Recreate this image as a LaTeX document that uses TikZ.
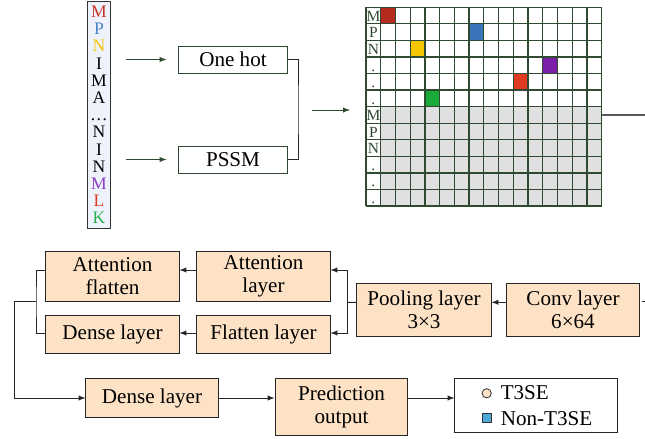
\documentclass[tikz,border=0pt]{standalone}
\usepackage{fontspec}
\setmainfont{Liberation Serif}
\usepackage{tikz}
\usetikzlibrary{shapes, arrows, arrows.meta, calc, fit, positioning}
\definecolor{gridgreen}{HTML}{2F4A30}
\definecolor{peach}{HTML}{FDE2C6}
\definecolor{seqbg}{HTML}{EEF2FB}
\definecolor{cellgrey}{HTML}{E0E0E0}
\definecolor{aared}{HTML}{C8352A}
\definecolor{aablue}{HTML}{4A80C4}
\definecolor{aayellow}{HTML}{F7C400}
\definecolor{aapurple}{HTML}{8A3FC4}
\definecolor{aaorange}{HTML}{E03A22}
\definecolor{aagreen}{HTML}{22B14C}
\definecolor{cellred}{HTML}{B52A1F}
\definecolor{cellblue}{HTML}{3A74B8}
\definecolor{cellpurple}{HTML}{7B1FA8}
\definecolor{cellgreen}{HTML}{1AAA3A}
\definecolor{markblue}{HTML}{4EA8D8}
\tikzstyle{layer} = [rectangle, draw=black!85, fill=peach, line width=0.7pt,
    align=center, inner sep=0pt, font=\fontsize{15}{16.5}\selectfont]
\tikzstyle{feature} = [rectangle, draw=gridgreen, fill=white, line width=0.7pt,
    minimum width=2.7cm, minimum height=0.675cm, font=\fontsize{15}{17}\selectfont]
\tikzstyle{letter} = [anchor=base, inner sep=0pt, font=\fontsize{11}{12}\selectfont]
\tikzstyle{line} = [draw=black!85, line width=0.7pt, -latex]
\tikzstyle{gline} = [draw=gridgreen, line width=0.7pt, -latex]

\begin{document}
\begin{tikzpicture}[x=0.025cm, y=-0.025cm]
    \useasboundingbox (0,0) rectangle (645,439);
    % Sequence
    \node [draw=black!80, fill=seqbg, line width=0.7pt, minimum width=0.575cm,
        minimum height=5.66cm, inner sep=0pt] (seq) at (99,114.8) {};
    \foreach \l/\c [count=\i from 0] in {M/aared, P/aablue, N/aayellow, I/black, M/black,
        A/black, {\ldots}/black, N/black, I/black, N/black, M/aapurple, L/aaorange, K/aagreen}
        \node [letter, text=\c, font=\fontsize{12.5}{13}\selectfont] (aa\i) at (99,{17.6+17.2*\i}) {\l};
    % Encodings
    \node [feature] (onehot) at (233,59.5) {One hot};
    \node [feature] (pssm) at (233,159.5) {PSSM};
    \coordinate (merge) at (298,110);
    \coordinate (gridin) at (350,110);
    \path [gline, shorten <=0.38cm, shorten >=0.3cm] (seq.east |- onehot.west) -- (onehot.west);
    \path [gline, shorten <=0.38cm, shorten >=0.3cm] (seq.east |- pssm.west) -- (pssm.west);
    \draw [black!85, line width=0.7pt] (onehot.east) -| (merge) |- (pssm.east);
    \path [gline, shorten <=0.35cm] (merge) -- (gridin);
    % Feature matrix
    \fill [cellgrey] (380.73,106.66) rectangle (601.68,206.02);
    \foreach \r/\c/\col in {0/1/cellred, 1/7/cellblue, 2/3/aayellow, 3/12/cellpurple,
        4/10/aaorange, 5/4/cellgreen}
        \fill [\col] ({366+14.73*\c},{7.3+16.56*\r}) rectangle +(14.73,16.56);
    \foreach \i in {0,...,16}
        \draw [gridgreen, line width=0.9pt] ({366+14.73*\i},7.3) -- ++(0,198.72);
    \foreach \j in {0,...,12}
        \draw [gridgreen, line width=0.9pt] (366,{7.3+16.56*\j}) -- ++(235.68,0);
    \foreach \l [count=\j from 0] in {M,P,N,.,.,.,M,P,N,.,.,.}
        \node [letter, text=gridgreen] (row\j) at (373.4,{21.4+16.56*\j}) {\l};
    \node [inner sep=0pt, minimum width=5.892cm, minimum height=4.968cm] (grid) at (483.84,106.66) {};
    \coordinate (gridout) at (645,115);
    \draw [black!65, line width=0.8pt] (grid.east |- gridout) -- (gridout);
    % Layers
    \node [layer, minimum width=3.3cm, minimum height=1.32cm] (conv) at (573,309.7) {Conv layer\\6×64};
    \node [layer, minimum width=3.35cm, minimum height=1.32cm] (pool) at (424,309.7) {Pooling layer\\3×3};
    \node [layer, minimum width=3.325cm, minimum height=1.25cm] (attl) at (263.5,276) {Attention\\layer};
    \node [layer, minimum width=3.325cm, minimum height=1.25cm] (attf) at (112.5,276) {Attention\\flatten};
    \node [layer, minimum width=3.325cm, minimum height=0.95cm] (flat) at (263.5,334) {Flatten layer};
    \node [layer, minimum width=3.325cm, minimum height=0.95cm] (dense1) at (112.5,334) {Dense layer};
    \node [layer, minimum width=3.3cm, minimum height=0.965cm] (dense2) at (152,398) {Dense layer};
    \node [layer, minimum width=3.32cm, minimum height=1.42cm] (pred) at (341.5,406.7) {Prediction\\output};
    \node [draw=black!85, fill=white, line width=0.7pt, minimum width=4.05cm,
        minimum height=1.35cm] (legend) at (536,405.7) {};
    \node [circle, draw=black!80, fill=peach, line width=0.6pt, minimum size=0.23cm,
        inner sep=0pt] (tmark) at (486.7,393.3) {};
    \node [anchor=base west, inner sep=0pt, font=\fontsize{15}{17}\selectfont] (tlabel) at (500.5,399) {T3SE};
    \node [draw=black!80, fill=markblue, line width=0.6pt, minimum size=0.22cm,
        inner sep=0pt] (nmark) at (486.7,418.3) {};
    \node [anchor=base west, inner sep=0pt, font=\fontsize{15}{17}\selectfont] (nlabel) at (500.5,425) {Non-T3SE};
    % Edges
    \coordinate (split) at (347,302.3);
    \coordinate (join) at (36,301.7);
    \coordinate (convin) at (645,301);
    \draw [black!85, line width=0.7pt] (convin) -- ++(-3.5,0);
    \path [line] ($(conv.west)+(0,-7.4)$) -- ($(pool.east)+(0,-7.4)$);
    \draw [black!85, line width=0.7pt] ($(pool.west)+(0,-7.4)$) -- (split);
    \path [line] (split) |- ($(attl.east)+(0,-6)$);
    \path [line] (split) |- ($(flat.east)+(0,-1)$);
    \path [line] ($(attl.west)+(0,-6)$) -- ($(attf.east)+(0,-6)$);
    \path [line] ($(flat.west)+(0,-1)$) -- ($(dense1.east)+(0,-1)$);
    \draw [black!85, line width=0.7pt] ($(attf.west)+(0,-6)$) -| (join) |- ($(dense1.west)+(0,-1)$);
    \path [line] (join) -- ++(-22,0) |- (dense2.west);
    \path [line] (dense2.east) -- (dense2.east -| pred.west);
    \path [line] (dense2.east -| pred.east) -- (dense2.east -| legend.west);
\end{tikzpicture}
\end{document}
